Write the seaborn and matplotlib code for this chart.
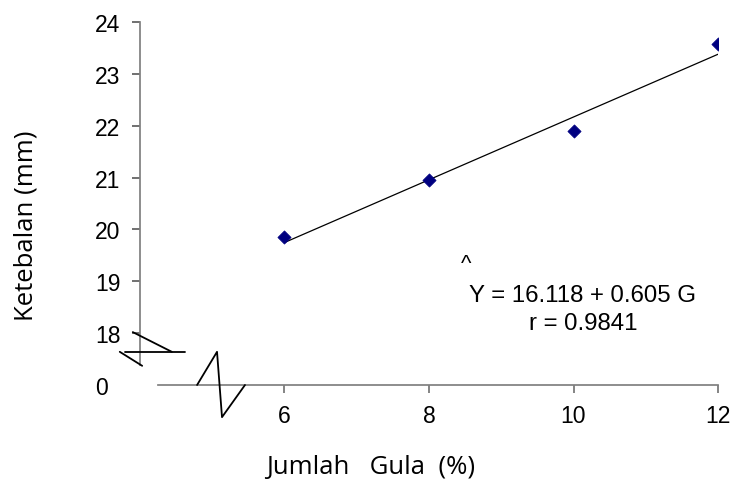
import matplotlib
matplotlib.use("Agg")
import matplotlib.pyplot as plt
import seaborn as sns
import numpy as np
import pandas as pd

# data
gula = [6, 8, 10, 12]
ketebalan = [19.85, 20.95, 21.90, 23.57]
intercept = 16.118
slope = 0.605
xticks = [6, 8, 10, 12]
yticks = [18, 19, 20, 21, 22, 23, 24]

sns.set_theme(style="white")
plt.rcParams['font.family'] = ['Liberation Sans', 'DejaVu Sans']
plt.rcParams['text.color'] = 'black'

fig = plt.figure(figsize=(7.31, 4.81), dpi=100)
ax = fig.add_axes([140/731, 1-386/481, (718-140)/731, (386-23)/481])

df = pd.DataFrame({"Gula": gula, "Ketebalan": ketebalan})
line_x = np.array([min(gula), max(gula)])
ax.plot(line_x, intercept + slope*line_x, color="black", lw=0.9, zorder=2)
sns.scatterplot(data=df, x="Gula", y="Ketebalan", marker="D", s=45,
                color="#000080", edgecolor="#000080", ax=ax, zorder=3)

ax.set_xlim(4, 12)
ax.set_ylim(17, 24)
ax.set_xticks(xticks)
ax.set_xticklabels([str(v) for v in xticks])
ax.set_yticks(yticks)
ax.set_yticklabels([str(v) for v in yticks])
ax.tick_params(axis='x', labelsize=16.5, labelcolor="black", direction="out",
               length=6, width=1.2, pad=8, color="#707070", bottom=True)
ax.tick_params(axis='y', labelsize=16.5, labelcolor="black", direction="out",
               length=6, width=1.2, pad=8, color="#707070", left=True)
# explicit y tick marks (drawn along the y axis)
ytrans = ax.get_yaxis_transform()
for v in yticks:
    ax.plot([-0.013, 0], [v, v], transform=ytrans, color="#707070", lw=1.2,
            clip_on=False, solid_capstyle="butt", zorder=1)

for s in ["top", "right"]:
    ax.spines[s].set_visible(False)
ax.spines["left"].set_color("#808080")
ax.spines["bottom"].set_color("#808080")
ax.spines["left"].set_bounds(17.38, 24)
ax.spines["bottom"].set_bounds(4.25, 12)

ax.set_xlabel("")
ax.set_ylabel("")
fig.text(371/731, 1-468/481, "Jumlah   Gula  (%)", family=["Open Sans", "DejaVu Sans"],
         fontsize=18.5, ha="center", va="center", color="black")
fig.text(26/731, 1-226/481, "Ketebalan (mm)", family=["Open Sans", "DejaVu Sans"],
         fontsize=18.5, ha="center", va="center", rotation=90, color="black")

# "0" label at axis break
fig.text(102/731, 1-389/481, "0", fontsize=16.5, ha="center", va="center",
         color="black")

# break symbols
kw = dict(color="black", lw=1.3, clip_on=False, zorder=4)
ax.plot([3.90, 4.44], [18.02, 17.64], **kw)
ax.plot([3.79, 4.62], [17.64, 17.64], **kw)
ax.plot([3.72, 4.03], [17.64, 17.37], **kw)
ax.plot([4.79, 5.066, 5.135, 5.453], [17.0, 17.64, 16.38, 17.0], **kw)

# equation text
ax.text(8.52, 19.34, "^", fontsize=16, ha="center", va="center", color="black")
ax.text(10.13, 18.74, "Y = 16.118 + 0.605 G", fontsize=17.3, ha="center",
        va="center", color="black")
ax.text(10.13, 18.19, "r = 0.9841", fontsize=17.3, ha="center", va="center",
        color="black")

fig.savefig("out.png", dpi=100)
